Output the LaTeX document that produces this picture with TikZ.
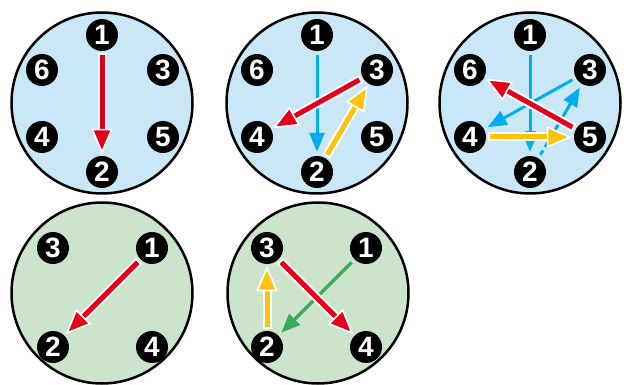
\documentclass[tikz,border=0pt]{standalone}
\usepackage{fontspec}
\setmainfont{Liberation Sans}
\usetikzlibrary{arrows.meta, calc}
\definecolor{dialblue}{RGB}{201,231,247}
\definecolor{dialgreen}{RGB}{204,228,204}
\definecolor{hotred}{RGB}{226,0,26}
\definecolor{coolblue}{RGB}{0,174,239}
\definecolor{goldyellow}{RGB}{255,194,14}
\definecolor{leafgreen}{RGB}{58,170,92}

\begin{document}
\begin{tikzpicture}[x=1pt, y=-1pt,
    dial/.style={circle, draw=black, line width=2.5pt, minimum size=181pt, inner sep=0pt},
    badge/.style={circle, fill=black, minimum size=32pt, inner sep=0pt,
                  text=white, font=\fontsize{28}{28}\selectfont\bfseries},
    fatarr/.style={draw=#1, line width=5pt, shorten <=4pt, shorten >=2pt,
                   -{Triangle[length=25pt, width=21pt, color=white, fill=#1, line width=1.5pt]},
                   preaction={draw=white, line width=9pt, shorten <=2pt}},
    thinarr/.style={draw=#1, line width=3pt, shorten <=4pt, shorten >=4pt,
                    -{Triangle[length=19pt, width=15pt]}},
    brokenline/.style={dash pattern=on 5pt off 4pt}
  ]
  \useasboundingbox (0,0) rectangle (624,385);

  % top row: six positions
  \node[dial, fill=dialblue] (dA) at (102,103) {};
  \node[dial, fill=dialblue] (dB) at (317,103) {};
  \node[dial, fill=dialblue] (dC) at (530,103) {};
  % bottom row: four positions
  \node[dial, fill=dialgreen] (dD) at (102,293) {};
  \node[dial, fill=dialgreen] (dE) at (318,293) {};

  \node[badge] (a1) at (102,35) {1};
  \node[badge] (a6) at (42,70) {6};
  \node[badge] (a3) at (163,70) {3};
  \node[badge] (a4) at (42,137) {4};
  \node[badge] (a5) at (163,137) {5};
  \node[badge] (a2) at (102,172) {2};

  \node[badge] (b1) at (317,35) {1};
  \node[badge] (b6) at (257,70) {6};
  \node[badge] (b3) at (377,70) {3};
  \node[badge] (b4) at (257,137) {4};
  \node[badge] (b5) at (377,137) {5};
  \node[badge] (b2) at (317,172) {2};

  \node[badge] (c1) at (530,35) {1};
  \node[badge] (c6) at (470,70) {6};
  \node[badge] (c3) at (590,70) {3};
  \node[badge] (c4) at (470,137) {4};
  \node[badge] (c5) at (590,137) {5};
  \node[badge] (c2) at (530,172) {2};

  \node[badge] (d3) at (53,248) {3};
  \node[badge] (d1) at (152,248) {1};
  \node[badge] (d2) at (53,347) {2};
  \node[badge] (d4) at (152,347) {4};

  \node[badge] (e3) at (267,248) {3};
  \node[badge] (e1) at (366,248) {1};
  \node[badge] (e2) at (267,347) {2};
  \node[badge] (e4) at (366,347) {4};

  \coordinate (cbar) at (530,133);
  \coordinate (cdash) at (554,132);

  \draw[fatarr=hotred] (a1) -- (a2);

  \draw[thinarr=coolblue] (b1) -- (b2);
  \draw[fatarr=goldyellow] (b2) -- (b3);
  \draw[fatarr=hotred] (b3) -- (b4);

  % earlier moves stay in blue
  \draw[coolblue, line width=3pt, shorten <=4pt, -{Bar[width=11pt, line width=2pt]}] (c1) -- (cbar);
  \draw[thinarr=coolblue, brokenline, shorten <=0pt] (cbar) -- (c2);
  \draw[thinarr=coolblue] (c3) -- (c4);
  \draw[coolblue, line width=3pt, brokenline, shorten <=4pt] (c2) -- (cdash);
  \draw[thinarr=coolblue, shorten <=0pt] (cdash) -- (c3);
  \draw[fatarr=goldyellow] (c4) -- (c5);
  \draw[fatarr=hotred] (c5) -- (c6);

  \draw[fatarr=hotred] (d1) -- (d2);

  \draw[thinarr=leafgreen, line width=3.5pt] (e1) -- (e2);
  \draw[fatarr=goldyellow] (e2) -- (e3);
  \draw[fatarr=hotred] (e3) -- (e4);
\end{tikzpicture}
\end{document}
